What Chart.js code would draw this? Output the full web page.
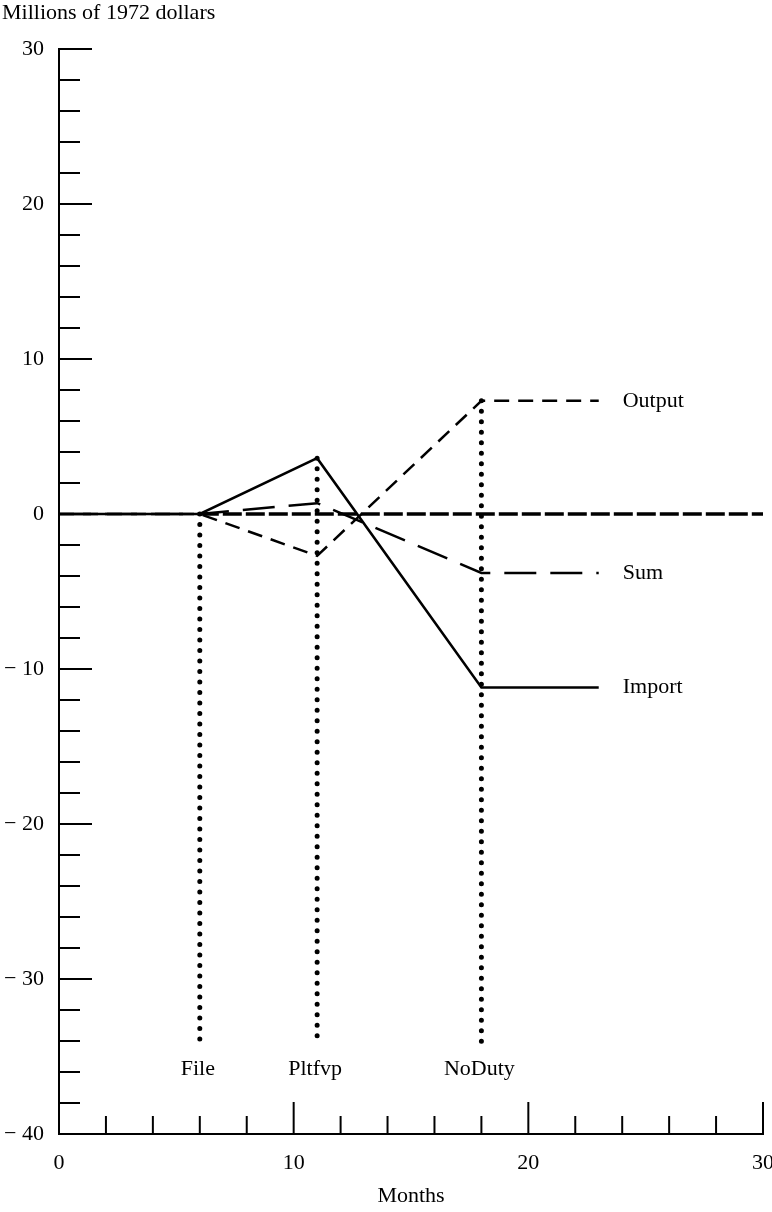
<!DOCTYPE html>
<html>
<head>
<meta charset="utf-8">
<script src="https://cdn.jsdelivr.net/npm/chart.js"></script>
<style>
  body { margin: 0; background: #fff; }
  #wrap { width: 772px; height: 1212px; position: relative; }
</style>
</head>
<body>
<div id="wrap"><canvas id="chart"></canvas></div>
<script>
// months where the series change
const months = [0, 6, 11, 18, 23];
const importVals = [0, 0, 3.6, -11.2, -11.2];
const outputVals = [0, 0, -2.7, 7.3, 7.3];
const sumVals = [0, 0, 0.7, -3.8, -3.8];

const baseMonths = [6, 30];
const baseVals = [0, 0];

// policy events (vertical dotted lines)
const eventNames = ['File', 'Pltfvp', 'NoDuty'];
const eventMonths = [6, 11, 18];
const eventTops = [0, 3.6, 7.3];
const eventBottom = -34.2;

const yTicks = [-40, -30, -20, -10, 0, 10, 20, 30];
const xTicks = [0, 10, 20, 30];

const FONT = "'Liberation Serif', 'Times New Roman', serif";
const FS = 22;

function pts(xs, ys) {
  return xs.map((x, i) => ({ x: x, y: ys[i] }));
}

const datasets = [];
eventMonths.forEach((m, i) => {
  datasets.push({
    label: eventNames[i],
    data: [{ x: m, y: eventTops[i] }, { x: m, y: eventBottom }],
    borderColor: '#000',
    borderWidth: 5,
    borderDash: [0, 10.5],
    borderCapStyle: 'round',
    pointRadius: 0,
    order: 5
  });
});
datasets.push({
  label: 'Base',
  data: pts(baseMonths, baseVals),
  borderColor: '#000', borderWidth: 3.5, borderDash: [19, 4],
  pointRadius: 0, order: 4
});
datasets.push({
  label: 'Output',
  data: pts(months, outputVals),
  borderColor: '#000', borderWidth: 2.5, borderDash: [15, 9],
  pointRadius: 0, order: 3
});
datasets.push({
  label: 'Sum',
  data: pts(months, sumVals),
  borderColor: '#000', borderWidth: 2.5, borderDash: [32, 14],
  pointRadius: 0, order: 2
});
datasets.push({
  label: 'Import',
  data: pts(months, importVals),
  borderColor: '#000', borderWidth: 2.5,
  pointRadius: 0, order: 1
});

const decor = {
  id: 'decor',
  beforeDraw(chart) {
    const ctx = chart.ctx;
    ctx.save();
    ctx.fillStyle = '#fff';
    ctx.fillRect(0, 0, chart.width, chart.height);
    ctx.restore();
  },
  afterDraw(chart) {
    const ctx = chart.ctx;
    const xs = chart.scales.x, ys = chart.scales.y;
    const left = xs.left, bottom = ys.bottom;
    ctx.save();
    ctx.strokeStyle = '#000';
    ctx.lineWidth = 2;
    // inward ticks on the y axis
    for (let v = -38; v <= 30; v += 2) {
      const py = ys.getPixelForValue(v);
      const len = v % 10 === 0 ? 33 : 21;
      ctx.beginPath();
      ctx.moveTo(left, py);
      ctx.lineTo(left + len, py);
      ctx.stroke();
    }
    // inward ticks on the x axis
    for (let m = 2; m <= 30; m += 2) {
      const px = xs.getPixelForValue(m);
      const len = m % 10 === 0 ? 32 : 18;
      ctx.beginPath();
      ctx.moveTo(px, bottom);
      ctx.lineTo(px, bottom - len);
      ctx.stroke();
    }
    ctx.fillStyle = '#000';
    ctx.font = FS + 'px ' + FONT;
    ctx.textBaseline = 'alphabetic';
    ctx.textAlign = 'left';
    ctx.fillText('Millions of 1972 dollars', 2, 19);

    // event labels under the dotted lines
    ctx.textAlign = 'center';
    ctx.textBaseline = 'middle';
    eventMonths.forEach((m, i) => {
      ctx.fillText(eventNames[i], xs.getPixelForValue(m) - 2, ys.getPixelForValue(eventBottom) + 25);
    });

    // series labels at the line ends
    ctx.textAlign = 'left';
    const last = months.length - 1;
    const endX = xs.getPixelForValue(months[last]) + 24;
    ctx.fillText('Output', endX, ys.getPixelForValue(outputVals[last]));
    ctx.fillText('Sum', endX, ys.getPixelForValue(sumVals[last]));
    ctx.fillText('Import', endX, ys.getPixelForValue(importVals[last]));
    ctx.restore();
  }
};

new Chart(document.getElementById('chart'), {
  type: 'line',
  data: { datasets: datasets },
  options: {
    responsive: true,
    maintainAspectRatio: false,
    animation: false,
    layout: { padding: { top: 49, right: 9, left: 0, bottom: 0 } },
    plugins: { legend: { display: false }, tooltip: { enabled: false } },
    scales: {
      x: {
        type: 'linear',
        min: 0, max: 30,
        afterBuildTicks: (s) => { s.ticks = xTicks.map(v => ({ value: v })); },
        afterFit: (s) => { s.height = 78; s.paddingLeft = 0; s.paddingRight = 0; },
        grid: { display: false, drawTicks: false },
        border: { display: true, color: '#000', width: 2 },
        ticks: { color: '#000', padding: 16, maxRotation: 0, font: { family: FONT, size: FS } },
        title: { display: true, text: 'Months', color: '#000', font: { family: FONT, size: FS }, padding: { top: 0, bottom: 3 } }
      },
      y: {
        type: 'linear',
        min: -40, max: 30,
        afterBuildTicks: (s) => { s.ticks = yTicks.map(v => ({ value: v })); },
        afterFit: (s) => { s.width = 59; s.paddingTop = 0; s.paddingBottom = 0; },
        grid: { display: false, drawTicks: false },
        border: { display: true, color: '#000', width: 2 },
        ticks: {
          color: '#000', padding: 15, font: { family: FONT, size: FS },
          callback: (v) => v < 0 ? '\u2212 ' + Math.abs(v) : String(v)
        }
      }
    }
  },
  plugins: [decor]
});
</script>
</body>
</html>
